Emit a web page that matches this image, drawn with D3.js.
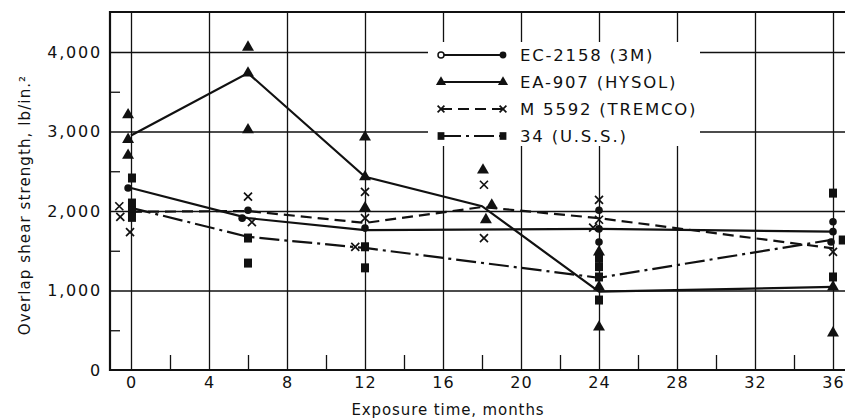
<!DOCTYPE html>
<html>
<head>
<meta charset="utf-8">
<script src="https://cdn.jsdelivr.net/npm/d3@7/dist/d3.min.js"></script>
<style>
  html, body { margin: 0; padding: 0; background: #fff; }
  svg { display: block; }
  text { font-family: "DejaVu Sans", sans-serif; fill: #111; }
</style>
</head>
<body>
<svg id="chart" width="845" height="420"></svg>
<script>
// ---------- data ----------
const xTicks = [0, 4, 8, 12, 16, 20, 24, 28, 32, 36];
const xMinorTicks = [2, 6, 10, 14, 18, 22, 26, 30, 34];
const yTicks = [0, 1000, 2000, 3000, 4000];
const yMinorTicks = [500, 1500, 2500, 3500];
const seriesNames = ["EC-2158 (3M)", "EA-907 (HYSOL)", "M 5592 (TREMCO)", "34 (U.S.S.)"];

// mean curves [month, lb/in^2]
const ec2158Line = [[0, 2290], [6, 1910], [12, 1760], [24, 1775], [36, 1740]];
const ea907Line  = [[0, 2950], [6, 3735], [12, 2430], [18, 2060], [24, 985], [36, 1045]];
const m5592Line  = [[0, 1990], [6, 2000], [12, 1850], [18, 2050], [24, 1910], [36, 1530]];
const uss34Line  = [[0, 2040], [6, 1675], [12, 1535], [24, 1160], [36, 1640]];

// individual specimens [month, lb/in^2]
const ec2158Pts = [[-0.15, 2290], [6, 2010], [5.7, 1910], [12, 1785], [24, 2010], [24, 1775], [24, 1610], [36, 1865], [36, 1740], [35.9, 1610]];
const ea907Pts  = [[-0.15, 3210], [-0.15, 2900], [-0.15, 2700], [6, 4060], [6, 3735], [6, 3020], [12, 2930], [12, 2430], [12, 2040], [18.05, 2515], [18.5, 2075], [18.2, 1890], [24, 1485], [24, 1045], [24, 540], [36, 1045], [36, 465]];
const m5592Pts  = [[-0.6, 2060], [-0.55, 1925], [-0.05, 1735], [6, 2180], [6.2, 1860], [12, 2240], [12, 1910], [11.5, 1550], [18.1, 2330], [18.1, 1660], [24, 2140], [24, 1890], [23.7, 1790], [36, 1485]];
const uss34Pts  = [[0.05, 2415], [0.05, 2100], [0.05, 2000], [0.05, 1920], [6, 1660], [6, 1345], [12, 1550], [12, 1285], [24, 1410], [24, 1300], [24, 1170], [24, 880], [36, 2225], [36, 1170], [36.5, 1635]];

// ---------- layout ----------
const L = 110, T = 12, B = 370, R = 845;
const svg = d3.select("#chart");
const x = d3.scaleLinear().domain([0, 36]).range([131, 833]);
const y = d3.scaleLinear().domain([0, 4000]).range([B, 52]);
const ink = "#111";

// gridlines
const gGrid = svg.append("g");
gGrid.append("g").attr("transform", `translate(${L},0)`)
  .call(d3.axisLeft(y).tickValues(yTicks.filter(d => d > 0)).tickSize(-(R - L)).tickFormat(""))
  .call(g => g.select(".domain").remove())
  .call(g => g.selectAll("line").attr("stroke", ink).attr("stroke-width", 1.3));
gGrid.append("g").attr("transform", `translate(0,${B})`)
  .call(d3.axisBottom(x).tickValues(xTicks).tickSize(-(B - T)).tickFormat(""))
  .call(g => g.select(".domain").remove())
  .call(g => g.selectAll("line").attr("stroke", ink).attr("stroke-width", 1.3));

// minor ticks
svg.append("g").attr("transform", `translate(${L},0)`)
  .call(d3.axisLeft(y).tickValues(yMinorTicks).tickSize(-10).tickFormat(""))
  .call(g => g.select(".domain").remove())
  .call(g => g.selectAll("line").attr("stroke", ink).attr("stroke-width", 1.3));
svg.append("g").attr("transform", `translate(0,${B})`)
  .call(d3.axisBottom(x).tickValues(xMinorTicks).tickSize(-15).tickFormat(""))
  .call(g => g.select(".domain").remove())
  .call(g => g.selectAll("line").attr("stroke", ink).attr("stroke-width", 1.3));

// frame
svg.append("path")
  .attr("d", `M${R},${T}H${L}V${B}H${R}`)
  .attr("fill", "none").attr("stroke", ink).attr("stroke-width", 2.2);

// tick labels
svg.append("g").attr("transform", `translate(${L},0)`)
  .call(d3.axisLeft(y).tickValues(yTicks).tickSize(0).tickPadding(8).tickFormat(d3.format(",")))
  .call(g => g.select(".domain").remove())
  .call(g => g.selectAll("text").attr("font-size", 16).attr("letter-spacing", 1.8)
      .attr("font-family", "DejaVu Sans").attr("fill", ink).attr("dy", "0.34em"));
svg.append("g").attr("transform", `translate(0,${B})`)
  .call(d3.axisBottom(x).tickValues(xTicks).tickSize(0).tickPadding(7).tickFormat(d3.format("d")))
  .call(g => g.select(".domain").remove())
  .call(g => g.selectAll("text").attr("font-size", 16).attr("letter-spacing", 1)
      .attr("font-family", "DejaVu Sans").attr("fill", ink));

// axis titles
svg.append("text")
  .attr("transform", `translate(30,205) rotate(-90)`)
  .attr("text-anchor", "middle").attr("font-size", 15).attr("letter-spacing", 1.1)
  .text("Overlap shear strength, lb/in.²");
svg.append("text")
  .attr("x", 448).attr("y", 415)
  .attr("text-anchor", "middle").attr("font-size", 15).attr("letter-spacing", 0.9)
  .text("Exposure time, months");

// legend background (breaks gridlines)
svg.append("rect").attr("x", 428).attr("y", 42).attr("width", 272).attr("height", 104).attr("fill", "#fff");

// ---------- series ----------
const line = d3.line().x(d => x(d[0])).y(d => y(d[1]));
const styles = [
  { data: ec2158Line, pts: ec2158Pts, dash: null, mark: "circle" },
  { data: ea907Line, pts: ea907Pts, dash: null, mark: "triangle" },
  { data: m5592Line, pts: m5592Pts, dash: "11,6", mark: "x" },
  { data: uss34Line, pts: uss34Pts, dash: "20,5,3,5", mark: "square" }
];

function drawMarker(g, kind, cx, cy, scale) {
  const s = scale || 1;
  if (kind === "circle") {
    g.append("circle").attr("cx", cx).attr("cy", cy).attr("r", 3.8 * s).attr("fill", ink);
  } else if (kind === "triangle") {
    g.append("path").attr("transform", `translate(${cx},${cy})`)
      .attr("d", d3.symbol(d3.symbolTriangle, 62 * s * s)()).attr("fill", ink);
  } else if (kind === "square") {
    g.append("rect").attr("x", cx - 4 * s).attr("y", cy - 4.5 * s)
      .attr("width", 8 * s).attr("height", 9 * s).attr("fill", ink);
  } else {
    const r = 4 * s;
    g.append("path").attr("d", `M${cx - r},${cy - r}L${cx + r},${cy + r}M${cx + r},${cy - r}L${cx - r},${cy + r}`)
      .attr("stroke", ink).attr("stroke-width", 1.7).attr("fill", "none");
  }
}

const gLines = svg.append("g");
styles.forEach(s => {
  gLines.append("path").datum(s.data).attr("d", line)
    .attr("fill", "none").attr("stroke", ink).attr("stroke-width", 2.2)
    .attr("stroke-dasharray", s.dash);
});
const gPts = svg.append("g");
styles.forEach(s => {
  s.pts.forEach(p => drawMarker(gPts, s.mark, x(p[0]), y(p[1]), 1));
});

// ---------- legend ----------
const gLeg = svg.append("g");
const legRows = [55, 82, 109, 136];
styles.forEach((s, i) => {
  const ly = legRows[i];
  gLeg.append("line").attr("x1", 441).attr("x2", 503).attr("y1", ly).attr("y2", ly)
    .attr("stroke", ink).attr("stroke-width", 1.8).attr("stroke-dasharray", s.dash);
  if (s.mark === "circle") {
    gLeg.append("circle").attr("cx", 441).attr("cy", ly).attr("r", 3).attr("fill", "#fff").attr("stroke", ink).attr("stroke-width", 1.5);
    drawMarker(gLeg, "circle", 503, ly, 0.9);
  } else {
    drawMarker(gLeg, s.mark, 441, ly, 0.85);
    drawMarker(gLeg, s.mark, 503, ly, 0.85);
  }
  gLeg.append("text").attr("x", 520).attr("y", ly).attr("dy", "0.36em")
    .attr("font-size", 16.5).attr("letter-spacing", 1.8).text(seriesNames[i]);
});
</script>
</body>
</html>
